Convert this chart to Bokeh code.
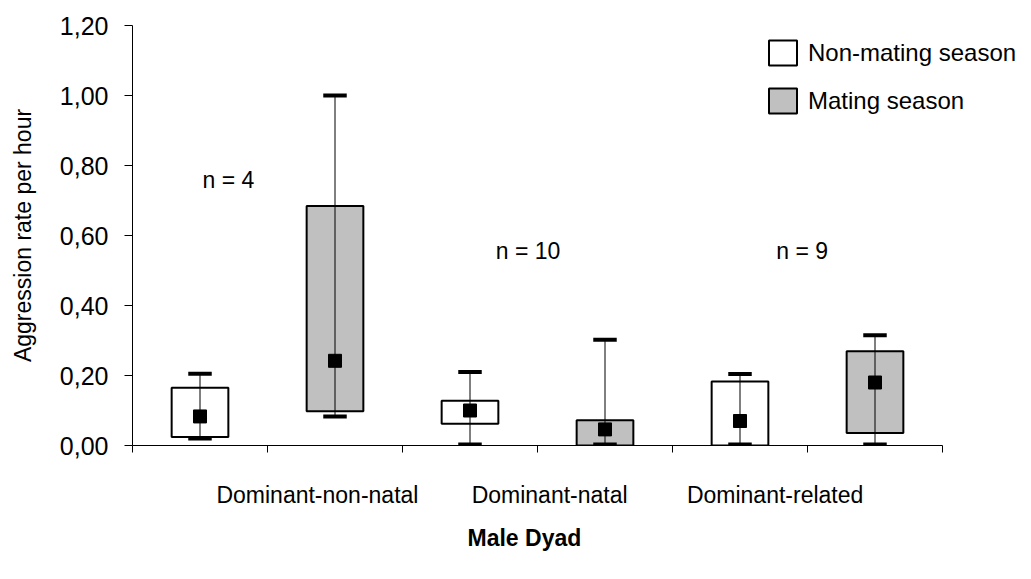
from bokeh.plotting import figure
from bokeh.models import (Range1d, FixedTicker, CustomJSTickFormatter, Legend, LegendItem,
                          ColumnDataSource, CDSView, IndexFilter, Title)
from bokeh.core.properties import value
from bokeh.embed import file_html
from bokeh.resources import INLINE

# ---- data ----
categories = ["Dominant-non-natal", "Dominant-natal", "Dominant-related"]
seasons = ["Non-mating season", "Mating season"]
n_labels = ["n = 4", "n = 10", "n = 9"]
x_title = "Male Dyad"
y_title = "Aggression rate per hour"

# per box: order = [non-natal NM, non-natal M, natal NM, natal M, related NM, related M]
whisker_low = [0.020, 0.083, 0.003, 0.003, 0.003, 0.003]
box_low     = [0.024, 0.098, 0.062, 0.000, 0.000, 0.036]
mean_val    = [0.083, 0.242, 0.100, 0.046, 0.070, 0.180]
box_high    = [0.165, 0.684, 0.128, 0.072, 0.183, 0.269]
whisker_high= [0.205, 1.000, 0.210, 0.302, 0.204, 0.315]

# annotation positions (slot units / value units)
n_label_x = [0.71, 2.93, 4.96]
n_label_y = [0.758, 0.556, 0.556]
cat_label_x = [1.37, 3.09, 4.76]

season_colors = ["#ffffff", "#c0c0c0"]
FONT = "Liberation Sans"

n_slots = 2 * len(categories)
xs, fills, seas = [], [], []
for g in range(len(categories)):
    for s in range(len(seasons)):
        xs.append(2 * g + s + 0.5)
        fills.append(season_colors[s])
        seas.append(seasons[s])

cap_half = 0.087
src = ColumnDataSource(dict(
    x=xs, wl=whisker_low, bl=box_low, m=mean_val, bh=box_high, wh=whisker_high,
    fill=fills, season=seas,
    cx0=[x - cap_half for x in xs], cx1=[x + cap_half for x in xs],
))

W, H = 1015, 563
LEFT, TOP, BOTTOM_Y = 132, 25, 446
slot_px = 135.0
x_end = (W - LEFT) / slot_px

p = figure(width=W, height=H, output_backend="svg", toolbar_location=None,
           x_range=Range1d(0, x_end), y_range=Range1d(0, 1.2),
           min_border_left=LEFT, min_border_right=0, min_border_top=TOP,
           min_border_bottom=H - BOTTOM_Y)
p.outline_line_color = None
p.grid.visible = False
p.background_fill_color = "white"
p.border_fill_color = "white"

nm_idx = [i for i, s in enumerate(seas) if s == seasons[0]]
m_idx = [i for i, s in enumerate(seas) if s == seasons[1]]
r_nm = p.vbar(x="x", width=0.42, bottom="bl", top="bh", fill_color="fill", line_color="black",
              line_width=2, source=src, view=CDSView(filter=IndexFilter(nm_idx)))
r_m = p.vbar(x="x", width=0.42, bottom="bl", top="bh", fill_color="fill", line_color="black",
             line_width=2, source=src, view=CDSView(filter=IndexFilter(m_idx)))

# whisker line
p.segment(x0="x", y0="wl", x1="x", y1="wh", line_color="black", line_width=1, source=src)
# caps
p.segment(x0="cx0", y0="wl", x1="cx1", y1="wl", line_color="black", line_width=4, source=src)
p.segment(x0="cx0", y0="wh", x1="cx1", y1="wh", line_color="black", line_width=4, source=src)
# means
p.scatter(x="x", y="m", marker="square", size=13, fill_color="black", line_color="black", source=src)

# n labels
p.text(x=n_label_x, y=n_label_y, text=n_labels, text_font=value(FONT), text_font_size="23px",
       text_align="center", text_baseline="middle", text_color="black")

# y axis
yax = p.yaxis[0]
yax.ticker = FixedTicker(ticks=[0, 0.2, 0.4, 0.6, 0.8, 1.0, 1.2])
yax.formatter = CustomJSTickFormatter(code="return tick.toFixed(2).replace('.', ',');")
yax.major_tick_in = 0
yax.major_tick_out = 8
yax.minor_tick_out = 0
yax.minor_tick_in = 0
yax.major_label_standoff = 16
yax.major_label_text_font = FONT
yax.major_label_text_font_size = "25px"
yax.major_label_text_color = "black"
yax.axis_label = y_title
yax.axis_label_text_font = FONT
yax.axis_label_text_font_size = "23px"
yax.axis_label_text_font_style = "normal"
yax.axis_label_text_color = "black"
yax.axis_label_standoff = 21
yax.axis_line_color = "black"
yax.major_tick_line_color = "black"

# x axis
xax = p.xaxis[0]
xax.bounds = (0, n_slots)
xax.ticker = FixedTicker(ticks=cat_label_x, minor_ticks=list(range(n_slots + 1)))
xax.formatter = CustomJSTickFormatter(
    args=dict(labels=categories, pos=cat_label_x),
    code="""
    let best = 0, d = 1e9;
    for (let i = 0; i < pos.length; i++) { const dd = Math.abs(pos[i] - tick); if (dd < d) { d = dd; best = i; } }
    return labels[best];
    """)
xax.major_tick_in = 0
xax.major_tick_out = 0
xax.minor_tick_in = 0
xax.minor_tick_out = 7
xax.minor_tick_line_color = "black"
xax.major_label_standoff = 29
xax.major_label_text_font = FONT
xax.major_label_text_font_size = "23px"
xax.major_label_text_color = "black"
xax.axis_line_color = "black"

# x-axis title (placed below the axis, left-aligned with an offset like the reference)
p.add_layout(Title(text=x_title, align="left", offset=335, standoff=25,
                   text_font=FONT, text_font_size="23px", text_font_style="bold",
                   text_color="black"), "below")

# legend
legend = Legend(items=[LegendItem(label=seasons[0], renderers=[r_nm]),
                       LegendItem(label=seasons[1], renderers=[r_m])],
                location=(633, 329), glyph_width=35, glyph_height=31, label_height=31,
                spacing=17, label_standoff=8, padding=0, margin=0,
                border_line_color=None, background_fill_alpha=0,
                label_text_font=FONT, label_text_font_size="24px", label_text_color="black")
p.add_layout(legend)

open("out.html", "w").write(file_html(p, INLINE))
